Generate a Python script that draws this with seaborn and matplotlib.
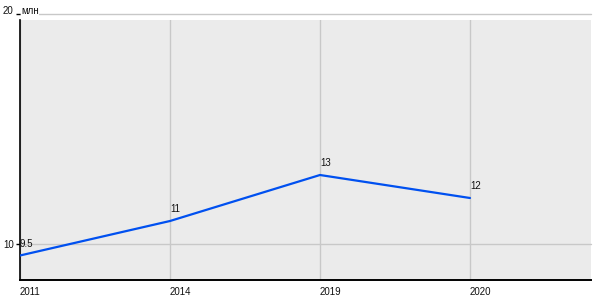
import matplotlib
matplotlib.use("Agg")
import matplotlib.pyplot as plt
import seaborn as sns
import pandas as pd
from matplotlib.patches import Rectangle

years = ["2011", "2014", "2019", "2020"]
values = [9.5, 11, 13, 12]
value_labels = ["9.5", "11", "13", "12"]
y_ticks = [10, 20]
y_tick_labels = ["10", "20"]
unit = "млн"

sns.set_theme(style="white")
plt.rcParams["font.family"] = ["Liberation Sans", "DejaVu Sans"]

df = pd.DataFrame({"year": years, "value": values})
df["pos"] = range(len(years))

fig = plt.figure(figsize=(6, 3), dpi=100)
ax = fig.add_axes([20 / 600, 20 / 300, 571 / 600, 266 / 300])
ymin = 10 - 36 / 23
ytop = 20 - 6 / 23
ax.set_ylim(ymin, 20)
ax.set_xlim(0, 3.807)
ax.patch.set_visible(False)
bg = Rectangle((0, ymin), 3.807, ytop - ymin, facecolor="#EBEBEB", edgecolor="none", zorder=0)
ax.add_patch(bg)

sns.lineplot(data=df, x="pos", y="value", color="#0050F0", linewidth=1.6, ax=ax, zorder=3)

for i, (v, lab) in enumerate(zip(values, value_labels)):
    ax.annotate(lab, (i, v), xytext=(0, 5), textcoords="offset points",
                ha="left", va="bottom", fontsize=7, color="#111111", zorder=4)

ax.set_xticks(range(len(years)))
ax.set_xticklabels(years, ha="left", fontsize=7, color="#111111")
ax.set_yticks(y_ticks)
ax.set_yticklabels(y_tick_labels, fontsize=7, color="#111111")
ax.tick_params(axis="x", length=0, pad=5)
ax.tick_params(axis="y", left=True, length=3, width=1, color="black", pad=1.5, direction="out")
ylabs = ax.get_yticklabels()
ylabs[0].set_va("center_baseline")
ylabs[1].set_va("baseline")
ax.set_xlabel("")
ax.set_ylabel("")

ax.grid(True, color="#C8C8C8", linewidth=1)
for gl in ax.get_xgridlines():
    gl.set_clip_path(bg)
for gl in ax.get_ygridlines():
    gl.set_clip_on(False)

for s in ["top", "right"]:
    ax.spines[s].set_visible(False)
ax.spines["left"].set_color("black")
ax.spines["left"].set_linewidth(1.2)
ax.spines["left"].set_bounds(ymin, ytop)
ax.spines["bottom"].set_color("black")
ax.spines["bottom"].set_linewidth(1.4)

ax.text(0.002, 20, unit, fontsize=7, color="#111111", ha="left", va="baseline",
        transform=ax.get_yaxis_transform(),
        bbox=dict(facecolor="white", edgecolor="none", pad=0.3), zorder=5)

fig.savefig("out.png", dpi=100)
